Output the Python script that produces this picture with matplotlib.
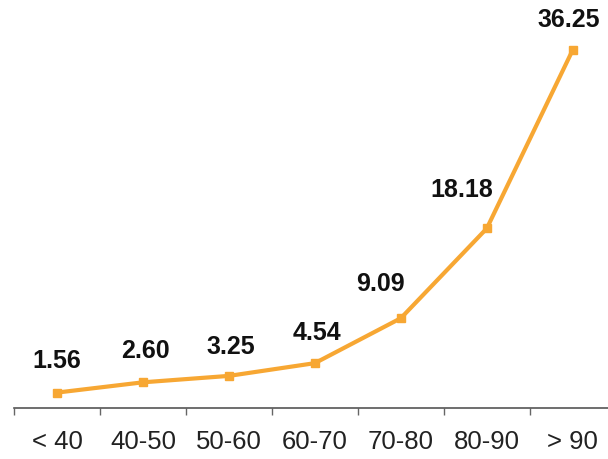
import matplotlib
matplotlib.use("Agg")
import matplotlib.pyplot as plt

# data
categories = ["< 40", "40-50", "50-60", "60-70", "70-80", "80-90", "> 90"]
values = [1.56, 2.60, 3.25, 4.54, 9.09, 18.18, 36.25]

# label nudges in pixels (dx, dy above point)
label_dx = [0, 2, 2, 2, -20, -25, -4]
label_dy = [32, 31, 29, 30, 34, 38, 30]

orange = "#F7A733"

plt.rcParams["font.family"] = ["Liberation Sans", "DejaVu Sans"]

fig = plt.figure(figsize=(6.08, 4.59), dpi=100)
ax = fig.add_axes([14 / 608, 1 - 408 / 459, 1 - 14 / 608, 408 / 459])

x = list(range(len(categories)))
ax.plot(x, values, color=orange, lw=3, marker="s", markersize=6,
        markeredgecolor=orange, solid_joinstyle="round", clip_on=False)

for i, v in enumerate(values):
    ax.annotate(f"{v:.2f}", (i, v), xytext=(label_dx[i] * 0.72, label_dy[i] * 0.72),
                textcoords="offset points", ha="center", va="center",
                fontsize=18, fontweight="bold", color="#111111")

ax.set_xlim(-0.5, 6.41)
ax.set_ylim(0, 41.3)

for s in ["top", "right", "left"]:
    ax.spines[s].set_visible(False)
ax.spines["bottom"].set_color("#555555")
ax.spines["bottom"].set_linewidth(1.2)

ax.set_yticks([])
ax.set_xticks(x)
ax.set_xticklabels(categories, fontsize=18.5, color="#222222")
ax.tick_params(axis="x", which="major", length=0, pad=16)
ax.set_xticks([i - 0.5 for i in x], minor=True)
ax.tick_params(axis="x", which="minor", length=5, width=1, color="#666666")

fig.savefig("out.png", dpi=100)
